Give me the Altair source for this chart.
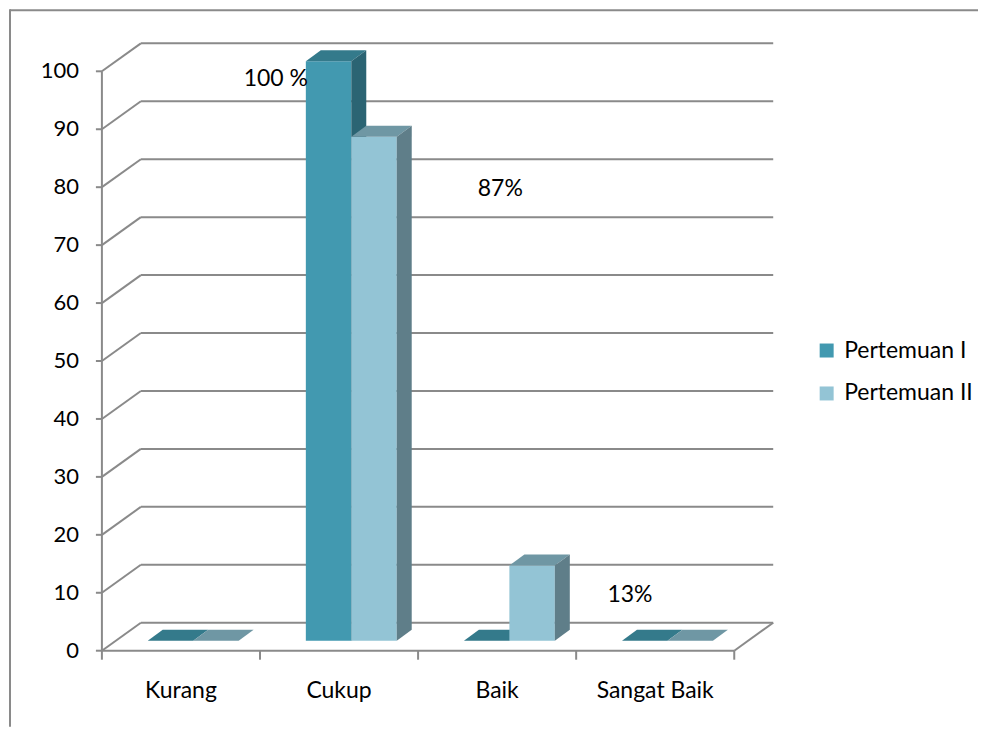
import altair as alt
import pandas as pd

# ---------------- data ----------------
categories = ["Kurang", "Cukup", "Baik", "Sangat Baik"]
series = ["Pertemuan I", "Pertemuan II"]
pertemuan_1 = [0, 100, 0, 0]
pertemuan_2 = [0, 87, 13, 0]
y_ticks = [0, 10, 20, 30, 40, 50, 60, 70, 80, 90, 100]
label_texts = ["100 %", "87%", "13%"]
label_x = [1.10, 2.52, 3.34]     # in category units
label_y = [98.6, 79.6, 9.6]      # in value units

# ---------------- layout / style ----------------
W, H = 971, 718
X0_PX, Y0_PX = 94, 642          # where x=0 / y=0 fall in the view
PXX, PXY = 158.25, 5.8          # pixels per category unit / per value unit
WALL_DX, WALL_DY = 39 / PXX, 28 / PXY
BAR_BASE = 10 / PXY
BAR_LEFT, BAR_W = 0.29, 0.2875
BAR_DX, BAR_DY = 15 / PXX, 11 / PXY
GRID = "#8a8a8a"
FONT = "Lato"
FS = 23
front_col = ["#4299b0", "#93c4d5"]
top_col = ["#347a8b", "#6f97a4"]
side_col = ["#2b6473", "#5f7e89"]

xs = alt.Scale(domain=[-X0_PX / PXX, (W - X0_PX) / PXX], nice=False, zero=False)
ys = alt.Scale(domain=[-(H - Y0_PX) / PXY, Y0_PX / PXY], nice=False, zero=False)

def X(f):
    return alt.X(f, type="quantitative", scale=xs, axis=None)

def Y(f):
    return alt.Y(f, type="quantitative", scale=ys, axis=None)

n = len(categories)

# back wall gridlines
grid_df = pd.DataFrame({"x": [WALL_DX] * len(y_ticks),
                        "x2": [n + WALL_DX] * len(y_ticks),
                        "y": [v + WALL_DY for v in y_ticks]})
grid = alt.Chart(grid_df).mark_rule(color=GRID, strokeWidth=2).encode(
    x=X("x"), x2="x2", y=Y("y"))

# slanted connectors + floor right edge
con_rows = [{"x": 0, "y": v, "x2": WALL_DX, "y2": v + WALL_DY} for v in y_ticks]
con_rows.append({"x": n, "y": 0, "x2": n + WALL_DX, "y2": WALL_DY})
conn = alt.Chart(pd.DataFrame(con_rows)).mark_rule(color=GRID, strokeWidth=2).encode(
    x=X("x"), y=Y("y"), x2="x2", y2="y2")

# front axis lines and ticks
axis_rows = [{"x": 0, "x2": 0, "y": 0, "y2": max(y_ticks)},
             {"x": 0, "x2": n, "y": 0, "y2": 0}]
axis_rows += [{"x": -6 / PXX, "x2": 0, "y": v, "y2": v} for v in y_ticks]
axis_rows += [{"x": i, "x2": i, "y": 0, "y2": -9 / PXY} for i in range(n + 1)]
axes = alt.Chart(pd.DataFrame(axis_rows)).mark_rule(color=GRID, strokeWidth=2).encode(
    x=X("x"), y=Y("y"), x2="x2", y2="y2")

# y tick labels
ytl = alt.Chart(pd.DataFrame({"v": y_ticks, "x": [0] * len(y_ticks)})).mark_text(
    align="right", baseline="middle", dx=-23, font=FONT, fontSize=FS - 1, color="#000000"
).encode(x=X("x"), y=Y("v"), text=alt.Text("v:Q"))

# category labels
ctl = alt.Chart(pd.DataFrame({"c": categories, "x": [i + 0.5 for i in range(n)],
                              "y": [0] * n})).mark_text(
    align="center", baseline="middle", dy=40, font=FONT, fontSize=FS, color="#000000"
).encode(x=X("x"), y=Y("y"), text="c:N")

# bars
values = [pertemuan_1, pertemuan_2]
bar_layers = []
for s in range(2):
    fr, tp, sd = [], [], []
    for i, cat in enumerate(categories):
        v = values[s][i]
        x0 = i + BAR_LEFT + s * BAR_W
        x1 = x0 + BAR_W
        top = v + BAR_BASE
        key = f"{cat}-{s}"
        fr.append({"series": series[s], "x": x0, "x2": x1, "y": BAR_BASE, "y2": top})
        tp.append({"bar": key, "y": top, "x": x0, "x2": x1})
        tp.append({"bar": key, "y": top + BAR_DY, "x": x0 + BAR_DX, "x2": x1 + BAR_DX})
        if v > 0:
            sd.append({"bar": key, "x": x1, "y": BAR_BASE, "y2": top})
            sd.append({"bar": key, "x": x1 + BAR_DX, "y": BAR_BASE + BAR_DY, "y2": top + BAR_DY})
    front = alt.Chart(pd.DataFrame(fr)).mark_rect().encode(
        x=X("x"), x2="x2", y=Y("y"), y2="y2",
        color=alt.Color("series:N",
                        scale=alt.Scale(domain=series, range=front_col),
                        legend=alt.Legend(title=None, orient="none", legendX=808, legendY=330,
                                          symbolType="square", symbolSize=196,
                                          symbolStrokeWidth=0, labelFont=FONT,
                                          labelFontSize=FS, labelColor="#000000",
                                          rowPadding=19, labelOffset=6)))
    topf = alt.Chart(pd.DataFrame(tp)).mark_area(orient="horizontal", color=top_col[s]).encode(
        y=Y("y"), x=X("x"), x2="x2", detail="bar:N")
    layers = [front, topf]
    if sd:
        side = alt.Chart(pd.DataFrame(sd)).mark_area(orient="vertical", color=side_col[s]).encode(
            x=X("x"), y=Y("y"), y2="y2", detail="bar:N")
        layers.append(side)
    bar_layers += layers

# data labels
lab = alt.Chart(pd.DataFrame({"t": label_texts, "x": label_x, "y": label_y})).mark_text(
    align="center", baseline="middle", font=FONT, fontSize=FS, color="#000000"
).encode(x=X("x"), y=Y("y"), text="t:N")

# outer frame (left and top edges)
frame_l = alt.Chart(pd.DataFrame({"a": [0]})).mark_rule(color=GRID, strokeWidth=2).encode(
    x=alt.value(2), y=alt.value(0), y2=alt.value(H))
frame_t = alt.Chart(pd.DataFrame({"a": [0]})).mark_rule(color=GRID, strokeWidth=2).encode(
    x=alt.value(2), x2=alt.value(W), y=alt.value(1))

chart = alt.layer(frame_l, frame_t, grid, conn, axes, *bar_layers, ytl, ctl, lab).properties(
    width=W, height=H, padding=0
).configure(background="#ffffff", view=alt.ViewConfig(stroke=None))

chart.save("out.html", embed_options={"renderer": "svg", "actions": False})
